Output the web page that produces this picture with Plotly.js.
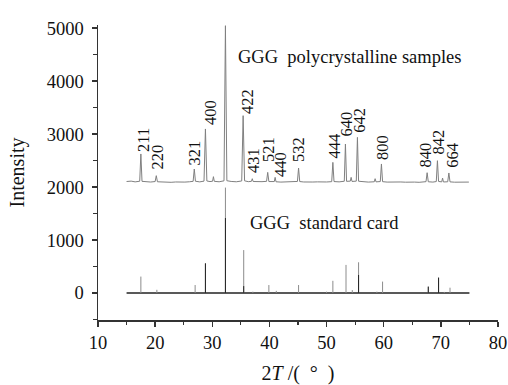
<!DOCTYPE html>
<html>
<head>
<meta charset="utf-8">
<script src="https://cdn.plot.ly/plotly-3.0.1.min.js"></script>
<style>html,body{margin:0;padding:0;background:#fff;}#chart{width:508px;height:385px;}</style>
</head>
<body>
<div id="chart"></div>
<script>
// Measured pattern of GGG polycrystalline samples (2θ, intensity)
const patX = [
  15.0, 15.8, 16.5, 17.3, 17.5, 17.7, 18.4, 19.2, 20.0, 20.2,
  20.4, 21.2, 22.0, 22.8, 23.6, 24.4, 25.2, 26.0, 26.65, 26.85,
  27.05, 27.8, 28.55, 28.8, 29.05, 29.6, 30.05, 30.2, 30.35, 31.2,
  32.05, 32.3, 32.55, 33.3, 34.2, 35.15, 35.4, 35.65, 36.3, 36.85,
  37.0, 37.15, 37.9, 38.7, 39.5, 39.7, 39.9, 40.5, 40.85, 41.0,
  41.15, 42.0, 42.8, 43.6, 44.3, 44.9, 45.1, 45.3, 46.0, 46.8,
  47.6, 48.4, 49.2, 50.0, 50.9, 51.1, 51.3, 52.2, 53.1, 53.3,
  53.5, 54.15, 54.3, 54.45, 55.2, 55.4, 55.6, 56.4, 57.3, 58.35,
  58.5, 58.65, 59.4, 59.6, 59.8, 60.6, 61.4, 62.2, 63.0, 63.8,
  64.6, 65.4, 66.2, 67.0, 67.4, 67.6, 67.8, 68.6, 69.2, 69.4,
  69.6, 70.15, 70.3, 70.45, 71.2, 71.4, 71.6, 72.4, 73.2, 74.0,
  74.9
];
const patY = [
  2105, 2112, 2098, 2110, 2625, 2108, 2102, 2095, 2104, 2215,
  2100, 2092, 2098, 2090, 2096, 2088, 2094, 2100, 2108, 2341,
  2110, 2098, 2112, 3097, 2115, 2104, 2110, 2196, 2108, 2100,
  2118, 5047, 2120, 2106, 2100, 2115, 3348, 2118, 2102, 2108,
  2158, 2105, 2098, 2102, 2108, 2277, 2104, 2098, 2104, 2183,
  2100, 2094, 2098, 2092, 2100, 2106, 2360, 2104, 2096, 2090,
  2095, 2098, 2092, 2096, 2102, 2466, 2104, 2098, 2110, 2813,
  2108, 2112, 2183, 2106, 2112, 2938, 2110, 2098, 2094, 2100,
  2158, 2098, 2104, 2436, 2102, 2094, 2098, 2090, 2096, 2092,
  2098, 2094, 2090, 2096, 2102, 2271, 2100, 2094, 2104, 2498,
  2106, 2098, 2170, 2096, 2100, 2266, 2098, 2092, 2096, 2090,
  2094
];

// GGG standard card sticks
const cardPos = [17.5, 20.3, 27.0, 28.8, 32.3, 35.5, 37.1, 39.9, 41.2, 45.1, 50.0, 51.1, 53.4, 54.5, 55.6, 58.8, 59.8, 67.8, 69.6, 70.6, 71.6];
const cardInt = [310, 60, 150, 560, 1990, 810, 25, 150, 40, 150, 25, 230, 530, 55, 580, 25, 215, 120, 290, 20, 100];
const cardDarkPos = [28.8, 32.3, 35.5, 55.6, 67.8, 69.6];
const cardDarkInt = [560, 1415, 130, 340, 120, 290];
const cardRange = [15, 75];

// Miller index labels: text, x position, bottom of label (data units)
const hklText = ['211', '220', '321', '400', '422', '431', '521', '440', '532', '444', '640', '642', '800', '840', '842', '664'];
const hklX    = [17.93, 20.38, 26.85, 29.57, 36.04, 37.09, 39.72, 41.82, 44.97, 51.35, 53.45, 55.61, 59.67, 67.28, 69.56, 72.06];
const hklY    = [2649, 2309, 2385, 3159, 3367, 2253, 2461, 2177, 2461, 2518, 2934, 3010, 2498, 2347, 2593, 2347];

function sticks(pos, ints) {
  const x = [], y = [];
  pos.forEach((p, i) => { x.push(p, p, null); y.push(0, ints[i], null); });
  return {x, y};
}

const s1 = sticks(cardPos, cardInt);
const s2 = sticks(cardDarkPos, cardDarkInt);

const traces = [
  {x: patX, y: patY, mode: 'lines', line: {color: '#808080', width: 1}, hoverinfo: 'skip'},
  {x: cardRange, y: [0, 0], mode: 'lines', line: {color: '#222', width: 1.6}, hoverinfo: 'skip'},
  {x: s1.x, y: s1.y, mode: 'lines', line: {color: '#8c8c8c', width: 1}, hoverinfo: 'skip'},
  {x: s2.x, y: s2.y, mode: 'lines', line: {color: '#222', width: 1}, hoverinfo: 'skip'}
];

const FONT = 'Liberation Serif, "Times New Roman", Times, serif';
const annotations = hklText.map((t, i) => ({
  x: hklX[i], y: hklY[i], xref: 'x', yref: 'y', text: t, textangle: -90,
  showarrow: false, xanchor: 'center', yanchor: 'bottom', borderpad: 0,
  font: {family: FONT, size: 16.5, color: '#111'}
}));
annotations.push(
  {x: 32.28, y: 5255, xref: 'x', yref: 'y', text: '420', showarrow: false, xanchor: 'center', yanchor: 'middle', borderpad: 0, font: {family: FONT, size: 16.5, color: '#111'}},
  {x: 34.4, y: 4465, xref: 'x', yref: 'y', text: 'GGG\u00a0\u00a0polycrystalline samples', showarrow: false, xanchor: 'left', yanchor: 'middle', borderpad: 0, font: {family: FONT, size: 18.5, color: '#111'}},
  {x: 36.5, y: 1314, xref: 'x', yref: 'y', text: 'GGG\u00a0\u00a0standard card', showarrow: false, xanchor: 'left', yanchor: 'middle', borderpad: 0, font: {family: FONT, size: 18.5, color: '#111'}}
);

const axisCommon = {
  showline: true, linecolor: '#333', linewidth: 1.5, showgrid: false, zeroline: false,
  ticks: 'outside', ticklen: 5, tickwidth: 1.5, tickcolor: '#333',
  tickfont: {family: FONT, size: 18.5, color: '#111'}, automargin: false
};

const layout = {
  width: 508, height: 385,
  margin: {l: 98, r: 10, t: 25, b: 65},
  paper_bgcolor: '#fff', plot_bgcolor: '#fff',
  showlegend: false,
  font: {family: FONT, color: '#111'},
  xaxis: Object.assign({}, axisCommon, {
    range: [10, 80], tick0: 10, dtick: 10,
    minor: {dtick: 5, ticks: 'outside', ticklen: 3, tickwidth: 1.2, tickcolor: '#333', showgrid: false},
    title: {text: '2<i>T</i> /(\u2002°\u2002)', font: {family: FONT, size: 20, color: '#111'}, standoff: 14}
  }),
  yaxis: Object.assign({}, axisCommon, {
    range: [-510, 5060], tick0: 0, dtick: 1000, ticklabelstandoff: 4,
    minor: {dtick: 500, ticks: 'outside', ticklen: 4, tickwidth: 1.2, tickcolor: '#333', showgrid: false},
    title: {text: 'Intensity', font: {family: FONT, size: 20, color: '#111'}, standoff: 17}
  }),
  annotations: annotations
};

Plotly.newPlot('chart', traces, layout, {displayModeBar: false, staticPlot: true});
</script>
</body>
</html>
